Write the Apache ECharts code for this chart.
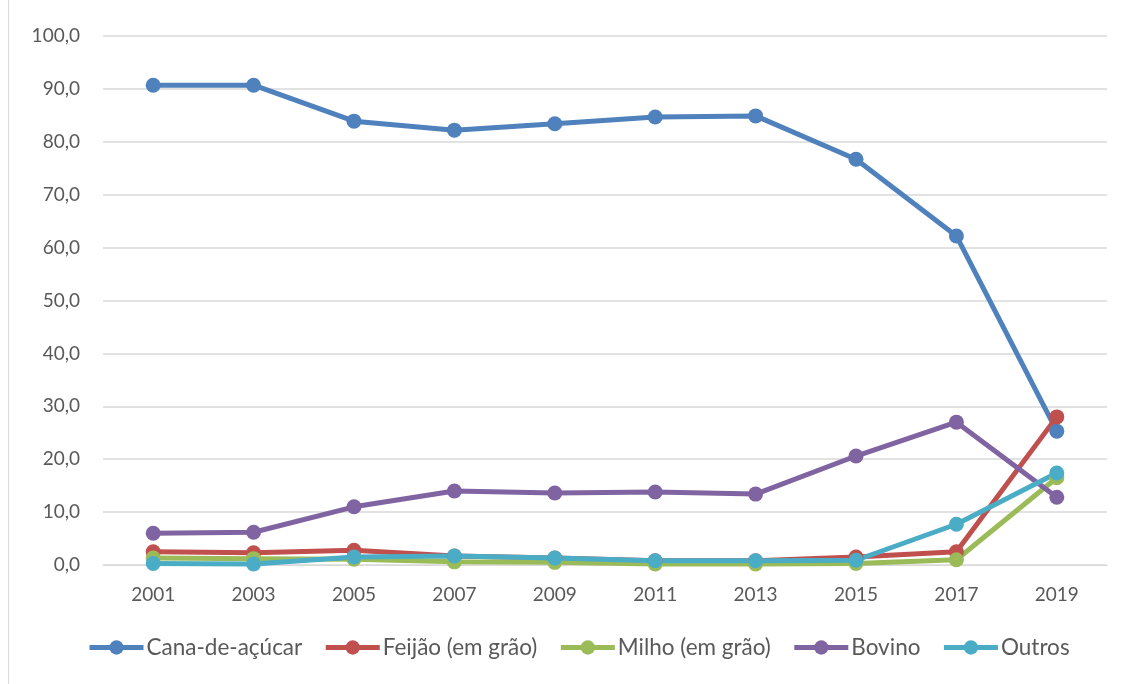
<!DOCTYPE html>
<html>
<head>
<meta charset="utf-8">
<script src="https://cdn.jsdelivr.net/npm/echarts@6/dist/echarts.min.js"></script>
<style>
  html, body { margin: 0; padding: 0; background: #fff; }
  #chart { width: 1131px; height: 684px; }
</style>
</head>
<body>
<div id="chart"></div>
<script>
// Anos da série
const years = ['2001', '2003', '2005', '2007', '2009', '2011', '2013', '2015', '2017', '2019'];

// Participação (%) por produto
const cana    = [90.7, 90.7, 83.9, 82.2, 83.4, 84.7, 84.9, 76.7, 62.2, 25.3];
const feijao  = [2.5, 2.3, 2.8, 1.7, 1.3, 0.8, 0.8, 1.5, 2.5, 28.0];
const milho   = [1.3, 1.2, 1.1, 0.6, 0.5, 0.2, 0.2, 0.3, 1.0, 16.5];
const bovino  = [6.0, 6.2, 11.0, 14.0, 13.6, 13.8, 13.4, 20.6, 27.0, 12.8];
const outros  = [0.3, 0.2, 1.5, 1.7, 1.3, 0.8, 0.8, 0.9, 7.7, 17.4];

const seriesDefs = [
  { name: 'Cana-de-açúcar',   data: cana,   color: '#4f81bd' },
  { name: 'Feijão (em grão)', data: feijao, color: '#c0504d' },
  { name: 'Milho (em grão)',  data: milho,  color: '#9bbb59' },
  { name: 'Bovino',           data: bovino, color: '#8064a2' },
  { name: 'Outros',           data: outros, color: '#4bacc6' }
];

const FONT = 'Lato, "Open Sans", sans-serif';

const chart = echarts.init(document.getElementById('chart'), null, { renderer: 'canvas' });
chart.setOption({
  animation: false,
  backgroundColor: '#ffffff',
  graphic: [{
    type: 'line',
    shape: { x1: 8.5, y1: 0, x2: 8.5, y2: 684 },
    style: { stroke: '#d9d9d9', lineWidth: 1 }
  }],
  grid: { left: 103, right: 24, top: 36, bottom: 119 },
  legend: {
    bottom: 20,
    left: 82,
    itemWidth: 54,
    itemHeight: 18,
    itemGap: 21,
    lineStyle: { width: 5 },
    textStyle: { fontFamily: FONT, fontSize: 22.5, color: '#595959', padding: [0, 0, 0, -2] },
    data: seriesDefs.map(s => s.name)
  },
  xAxis: {
    type: 'category',
    data: years,
    boundaryGap: true,
    axisLine: { show: true, lineStyle: { color: '#d9d9d9', width: 1 } },
    axisTick: { show: false },
    axisLabel: { fontFamily: FONT, fontSize: 19, color: '#595959', margin: 20 }
  },
  yAxis: {
    type: 'value',
    min: 0,
    max: 100,
    interval: 10,
    axisLine: { show: false },
    axisTick: { show: false },
    splitLine: { lineStyle: { color: '#d9d9d9', width: 1.5 } },
    axisLabel: {
      fontFamily: FONT, fontSize: 19, color: '#595959', margin: 23,
      formatter: v => v.toFixed(1).replace('.', ',')
    }
  },
  series: seriesDefs.map(s => ({
    name: s.name,
    type: 'line',
    data: s.data,
    symbol: 'circle',
    symbolSize: 15,
    lineStyle: { width: 5, color: s.color },
    itemStyle: { color: s.color },
    emphasis: { disabled: true }
  }))
});
</script>
</body>
</html>
